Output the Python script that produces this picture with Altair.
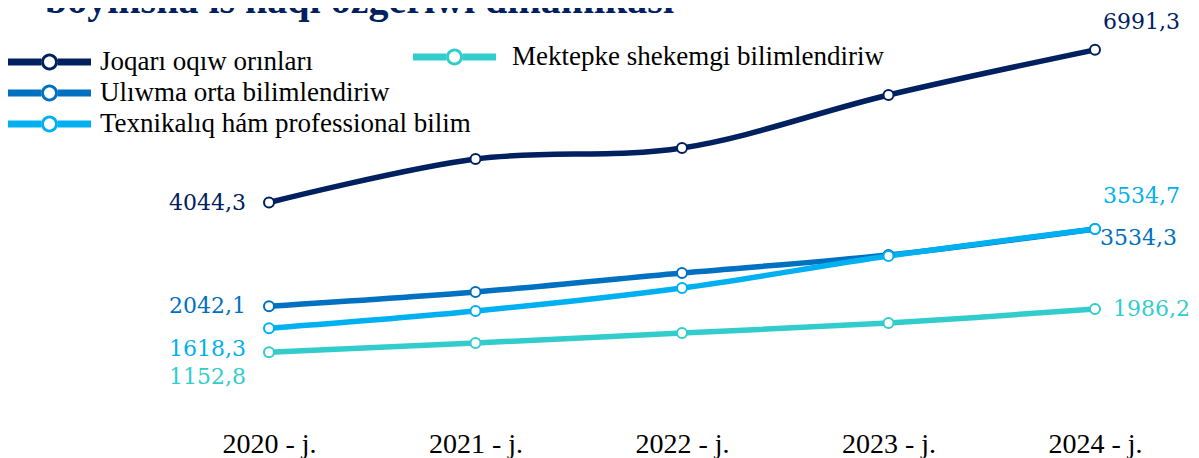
import altair as alt
import pandas as pd

# ---- data ----
years = ["2020 - j.", "2021 - j.", "2022 - j.", "2023 - j.", "2024 - j."]
series = [
    "Joqarı oqıw orınları",
    "Ulıwma orta bilimlendiriw",
    "Texnikalıq hám professional bilim",
    "Mektepke shekemgi bilimlendiriw",
]
joqari = [4044.3, 4884, 5097, 6120, 6991.3]
ulwma = [2042.1, 2317, 2683, 3031, 3534.3]
texnik = [1618.3, 1950, 2394, 3012, 3534.7]
mektep = [1152.8, 1332, 1525, 1718, 1986.2]
title_text = ["boyınsha is haqı ózgeriwi dinamikası"]

# ---- styles ----
colors = ["#002060", "#0070C0", "#00B0F0", "#33CCCC"]
label_font = "DejaVu Serif"
serif = "Liberation Serif"
LEFT = 150
TOP = 15.5

rows = []
for s, vals in zip(series, [joqari, ulwma, texnik, mektep]):
    for y, v in zip(years, vals):
        rows.append({"series": s, "year": y, "value": v,
                     "label": f"{v:.1f}".replace(".", ",")})
df = pd.DataFrame(rows)

x_enc = alt.X("year:N", sort=years, title=None,
              scale=alt.Scale(type="point", range=[111, 937], padding=0),
              axis=alt.Axis(domain=False, ticks=False, grid=False, tickSize=0,
                            labelAngle=0, labelFont=serif, labelFontSize=28,
                            labelColor="#000000", labelPadding=40,
                            labelBaseline="alphabetic"))
y_enc = alt.Y("value:Q", axis=None,
              scale=alt.Scale(domain=[0, 7500], nice=False, zero=True))

stroke_scale = alt.Scale(domain=series, range=colors)

# legend symbol: bar + ring (hole in the middle)
sym = ("M-1,-0.084 L-0.2,-0.084 L-0.2,0.084 L-1,0.084 Z "
       "M0.2,-0.084 L1,-0.084 L1,0.084 L0.2,0.084 Z "
       "M-0.205,0 A0.205,0.205 0 1,0 0.205,0 A0.205,0.205 0 1,0 -0.205,0 Z "
       "M-0.1325,0 A0.1325,0.1325 0 1,1 0.1325,0 A0.1325,0.1325 0 1,1 -0.1325,0 Z")

def legend(x, y, off):
    return alt.Legend(title=None, orient="none", legendX=x, legendY=y,
                      direction="vertical", symbolType=sym, symbolSize=6889,
                      symbolStrokeWidth=0, symbolOpacity=1,
                      labelFont=serif, labelFontSize=27, labelColor="#000000",
                      labelOffset=off, labelLimit=800, clipHeight=31,
                      rowPadding=0, padding=0)

base = alt.Chart(df)

leg_a = base.transform_filter(
    alt.FieldOneOfPredicate(field="series", oneOf=series[:3])
).mark_point(filled=True, opacity=0, size=10).encode(
    x=x_enc, y=y_enc,
    color=alt.Color("series:N", sort=series[:3],
                    scale=alt.Scale(domain=series[:3], range=colors[:3]),
                    legend=legend(-LEFT, 23, 9)))

leg_b = base.transform_filter(
    alt.FieldOneOfPredicate(field="series", oneOf=series[3:])
).mark_point(filled=True, opacity=0, size=10).encode(
    x=x_enc, y=y_enc,
    fill=alt.Fill("series:N",
                  scale=alt.Scale(domain=series[3:], range=colors[3:]),
                  legend=legend(405 - LEFT, 18, 16)))

lines = base.mark_line(interpolate="catmull-rom", strokeWidth=5.5,
                       strokeCap="round").encode(
    x=x_enc, y=y_enc,
    stroke=alt.Stroke("series:N", scale=stroke_scale, legend=None, sort=series))

points = base.mark_point(filled=True, size=100, strokeWidth=2,
                         fillOpacity=1).encode(
    x=x_enc, y=y_enc,
    stroke=alt.Stroke("series:N", scale=stroke_scale, legend=None, sort=series),
    fill=alt.value("white"))

# label placement style: (series index, year index, align, dx, dy)
label_specs = [
    (0, 0, "right", -23, 0),
    (1, 0, "right", -23, 0),
    (2, 0, "right", -23, 21),
    (3, 0, "right", -23, 25),
    (0, 4, "left", 8, -28),
    (2, 4, "left", 8, -33),
    (1, 4, "left", 5, 9),
    (3, 4, "left", 18, 0),
]
texts = []
for si, yi, al, dx, dy in label_specs:
    texts.append(
        base.transform_filter(
            (alt.datum.series == series[si]) & (alt.datum.year == years[yi])
        ).mark_text(font=label_font, fontSize=22, align=al, baseline="middle",
                    dx=dx, dy=dy, color=colors[si]).encode(
            x=x_enc, y=y_enc, text="label:N")
    )

# heading (cut off at the top, as in the source image)
title = alt.Chart(pd.DataFrame({"t": title_text})).mark_text(
    align="left", baseline="alphabetic", font=serif, fontSize=40,
    fontWeight="bold", color="#002060"
).encode(x=alt.value(37 - LEFT), y=alt.value(5 - TOP), text="t:N")

chart = alt.layer(leg_a, leg_b, lines, points, *texts, title).resolve_scale(
    color="independent", fill="independent"
).resolve_legend(color="independent", fill="independent").properties(
    width=1033, height=388.5,
    autosize=alt.AutoSizeParams(type="none"),
    padding={"left": LEFT, "top": TOP, "right": 0, "bottom": 46},
).configure(background="white").configure_view(stroke=None)

chart.save("out.html", embed_options={"renderer": "svg", "actions": False})
